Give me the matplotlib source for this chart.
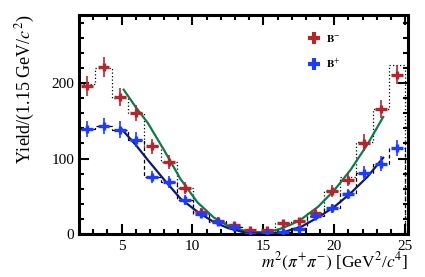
import matplotlib.pyplot as plt
from matplotlib.lines import Line2D
import numpy as np

# bins of 1.15 GeV^2/c^4 from 2 to 25
bin_edges = [2.0, 3.15, 4.3, 5.45, 6.6, 7.75, 8.9, 10.05, 11.2, 12.35, 13.5,
             14.65, 15.8, 16.95, 18.1, 19.25, 20.4, 21.55, 22.7, 23.85, 25.0]
bin_centres = [2.575, 3.725, 4.875, 6.025, 7.175, 8.325, 9.475, 10.625, 11.775, 12.925,
               14.075, 15.225, 16.375, 17.525, 18.675, 19.825, 20.975, 22.125, 23.275, 24.425]

# B- data
yield_bm = [196, 221, 181, 160, 116, 95, 61, 29, 17, 12, 5, 5, 14, 17, 28, 57, 72, 121, 166, 211]
err_bm = [13, 13, 12, 11, 10, 9, 8, 6, 5, 4, 3, 3, 4, 4, 6, 8, 9, 11, 12, 13]
hist_bm = [198, 220, 180, 160, 116, 95, 61, 29, 17, 10, 4, 4, 14, 17, 28, 57, 75, 122, 166, 224]

# B+ data
yield_bp = [139, 143, 138, 125, 75, 69, 45, 27, 16, 9, 0, 2, 3, 7, 24, 34, 53, 81, 93, 114]
err_bp = [11, 11, 11, 10, 8, 8, 7, 5, 4, 3, 2, 2, 2, 3, 5, 6, 7, 9, 10, 11]
hist_bp = [139, 143, 138, 125, 75, 69, 45, 27, 16, 9, 1, 3, 3, 8, 24, 34, 54, 81, 93, 114]

# fitted curves
fit_bm_x = [5.15, 6.0, 6.85, 8.0, 9.15, 10.35, 11.5, 12.5, 13.5, 14.5, 15.3, 16.2, 17.0,
            17.7, 18.85, 20.0, 21.15, 22.35, 23.45]
fit_bm_y = [191, 168, 147, 111, 73, 42, 22, 11, 5, 2.5, 2.5, 7, 13, 20, 36, 58, 85, 119, 155]
fit_bp_x = [5.0, 6.0, 6.85, 8.0, 9.15, 10.35, 11.5, 12.5, 13.5, 14.5, 15.5, 16.5, 17.7,
            18.85, 20.0, 21.15, 22.35, 23.45]
fit_bp_y = [139, 118, 98, 72, 47, 29.5, 16, 8, 3, 1, 0.5, 3, 10, 22, 36, 54, 76, 101]

red = '#b5262c'
blue = '#1e3cff'
green = '#0f7a4c'
navy = '#0c1a70'

plt.rcParams['font.family'] = 'Liberation Serif'
plt.rcParams['mathtext.fontset'] = 'stix'

fig = plt.figure(figsize=(4.25, 2.77), dpi=100)
ax = fig.add_axes([0.186, 0.155, 0.774, 0.791])

# step histograms
ax.stairs(hist_bm, bin_edges, color='black', lw=0.9, linestyle=(0, (1, 1.8)))
ax.stairs(hist_bp, bin_edges, color='black', lw=0.9, linestyle=(0, (3, 2)))

# fit curves
ax.plot(fit_bm_x, fit_bm_y, color=green, lw=1.6, zorder=3)
ax.plot(fit_bp_x, fit_bp_y, color=navy, lw=1.6, zorder=3)

# data points
for y, e, c in [(yield_bm, err_bm, red), (yield_bp, err_bp, blue)]:
    ax.errorbar(bin_centres, y, yerr=e, fmt='none', ecolor=c, elinewidth=1.2, zorder=4)
    ax.errorbar(bin_centres, y, xerr=0.42, fmt='none', ecolor=c, elinewidth=2.4, zorder=4)
    ax.plot(bin_centres, y, ls='none', marker='|', ms=6, mew=2.4, color=c, zorder=4)

ax.set_xlim(2, 25.2)
ax.set_ylim(0, 290)
ax.set_xticks([5, 10, 15, 20, 25])
ax.set_xticks(np.arange(2, 26, 1), minor=True)
ax.set_yticks([0, 100, 200])
ax.set_yticks(np.arange(0, 290, 20), minor=True)
ax.tick_params(which='both', direction='in', top=True, right=True, labelsize=11, width=1.5)
ax.tick_params(which='major', length=7)
ax.tick_params(which='minor', length=3.5)
ax.tick_params(axis='x', pad=4)
for s in ax.spines.values():
    s.set_linewidth(2.2)

ax.set_xlabel(r'$m^2(\pi^{+}\pi^{-})$ [GeV$^2$/$c^4$]', fontsize=12.5, loc='right', labelpad=-1)
ax.set_ylabel(r'Yield/(1.15 GeV/$c^2$)', fontsize=13, loc='top', labelpad=10)

handles = [Line2D([], [], ls='none', marker='+', ms=8, mew=3, color=red),
           Line2D([], [], ls='none', marker='+', ms=8, mew=3, color=blue)]
ax.legend(handles, [r'$\mathbf{B}^{-}$', r'$\mathbf{B}^{+}$'], loc='upper left',
          bbox_to_anchor=(0.665, 0.965), frameon=False, handlelength=1.2,
          handletextpad=0.4, labelspacing=1.15, prop={'family': 'DejaVu Sans', 'weight': 'bold', 'size': 8})

fig.savefig('out.png', dpi=100)
